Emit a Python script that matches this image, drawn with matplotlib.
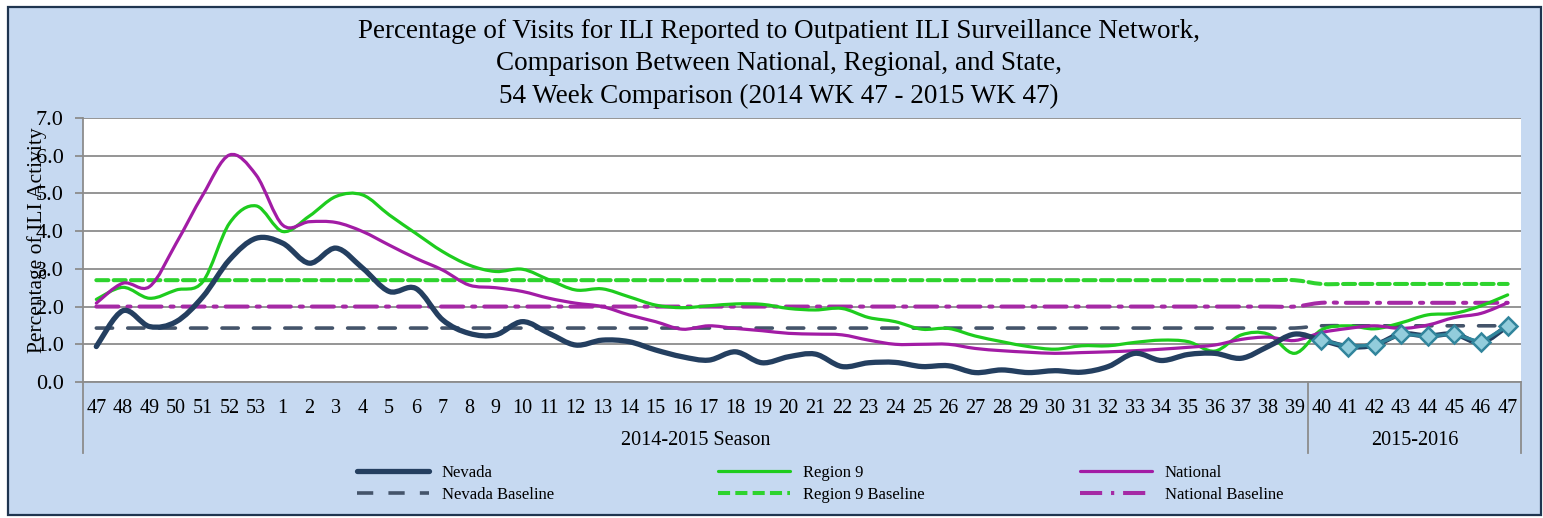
import numpy as np
import matplotlib
matplotlib.use("Agg")
import matplotlib.pyplot as plt
from matplotlib.path import Path
from matplotlib.patches import PathPatch, Rectangle
from matplotlib.lines import Line2D
import matplotlib.transforms as mtransforms

plt.rcParams["font.family"] = ["Liberation Serif", "DejaVu Serif"]

weeks = [47, 48, 49, 50, 51, 52, 53] + list(range(1, 48))
seasons = ["2014-2015 Season", "2015-2016"]
season_sizes = [46, 8]

nevada = [0.94, 1.89, 1.47, 1.6, 2.26, 3.24, 3.81,
          3.68, 3.15, 3.55, 3.02, 2.4, 2.48, 1.65, 1.29, 1.25,
          1.6, 1.29, 0.98, 1.11, 1.07, 0.85, 0.67, 0.58, 0.8, 0.51,
          0.67, 0.74, 0.41, 0.51, 0.52, 0.41, 0.43, 0.25, 0.32, 0.25,
          0.3, 0.26, 0.41, 0.76, 0.57, 0.73, 0.76, 0.63, 0.94, 1.27,
          1.11, 0.94, 0.98, 1.27, 1.22, 1.27, 1.05, 1.49]
region9 = [2.19, 2.51, 2.22, 2.44, 2.66, 4.21, 4.67,
           3.99, 4.4, 4.92, 4.96, 4.43, 3.94, 3.46, 3.1, 2.93,
           2.99, 2.71, 2.44, 2.47, 2.26, 2.04, 1.97, 2.02, 2.07, 2.06,
           1.95, 1.91, 1.95, 1.71, 1.6, 1.4, 1.42, 1.22, 1.07, 0.94,
           0.87, 0.96, 0.96, 1.05, 1.11, 1.07, 0.82, 1.25, 1.27, 0.76,
           1.38, 1.49, 1.41, 1.57, 1.78, 1.82, 2.02, 2.31]
national = [2.09, 2.62, 2.53, 3.68, 4.96, 6.02, 5.49,
            4.16, 4.25, 4.23, 3.99, 3.63, 3.28, 2.97, 2.57, 2.5,
            2.4, 2.22, 2.09, 2.0, 1.78, 1.6, 1.4, 1.49, 1.42, 1.36,
            1.29, 1.27, 1.25, 1.11, 1.0, 1.0, 1.0, 0.89, 0.83, 0.79,
            0.76, 0.78, 0.8, 0.83, 0.87, 0.92, 0.98, 1.13, 1.19, 1.1,
            1.31, 1.42, 1.49, 1.42, 1.51, 1.71, 1.82, 2.1]
nevada_baseline = [1.43, 1.49]
region9_baseline = [2.7, 2.6]
national_baseline = [2.0, 2.1]

C_NV = "#243f60"
C_NVB = "#44546a"
C_R9 = "#1ecc1e"
C_NAT = "#a21ca5"
C_TEAL = "#31859c"
C_BG = "#c6d9f1"


def smooth_path(xs, ys):
    # excel-style smoothed line: catmull-rom turned into cubic beziers
    pts = np.column_stack([xs, ys]).astype(float)
    n = len(pts)
    verts = [pts[0]]
    codes = [Path.MOVETO]
    for i in range(n - 1):
        p0 = pts[i - 1] if i > 0 else pts[i]
        p1, p2 = pts[i], pts[i + 1]
        p3 = pts[i + 2] if i + 2 < n else pts[i + 1]
        verts += [p1 + (p2 - p0) / 6, p2 - (p3 - p1) / 6, p2]
        codes += [Path.CURVE4] * 3
    return Path(verts, codes)


x = np.arange(len(weeks))

fig = plt.figure(figsize=(15.43, 5.18), dpi=100)
fig.patches.append(Rectangle((8 / 1543, 3 / 518), 1533 / 1543, 508 / 518,
                             transform=fig.transFigure, facecolor=C_BG,
                             edgecolor="#1f3550", lw=1.6, zorder=-10))

ax = fig.add_axes([83 / 1543, 136 / 518, 1438 / 1543, 264 / 518])
ax.set_facecolor("white")

styles = [
    (np.repeat(nevada_baseline, season_sizes), C_NVB, 2.6, (0, (4.5, 4.2)), "Nevada Baseline"),
    (np.repeat(region9_baseline, season_sizes), "#2ed32e", 2.9, (0, (3.0, 1.3)), "Region 9 Baseline"),
    (np.repeat(national_baseline, season_sizes), "#a52aa5", 2.9, (0, (5.5, 2.2, 0.8, 2.2)), "National Baseline"),
    (region9, C_R9, 2.3, "-", "Region 9"),
    (national, C_NAT, 2.3, "-", "National"),
    (nevada, C_NV, 3.8, "-", "Nevada"),
]
handles = {}
for vals, color, lw, ls, name in styles:
    patch = PathPatch(smooth_path(x, vals), fill=False, edgecolor=color, lw=lw,
                      linestyle=ls, capstyle="round", joinstyle="round", zorder=3)
    ax.add_patch(patch)
    handles[name] = Line2D([], [], color=color, lw=lw, linestyle=ls,
                           solid_capstyle="round")

# current season for nevada drawn with markers
cur = slice(season_sizes[0], None)
ax.plot(x[cur], np.array(nevada)[cur], color=C_TEAL, lw=2.4, marker="D",
        markersize=9, markerfacecolor="#92cddc", markeredgecolor=C_TEAL,
        markeredgewidth=1.8, zorder=4)

ax.set_xlim(-0.5, len(weeks) - 0.5)
ax.set_ylim(0, 7)
ax.set_yticks(np.arange(0, 8))
ax.set_yticklabels([f"{v:.1f}" for v in range(8)], fontsize=16)
ax.set_xticks(x)
ax.set_xticklabels([str(w) for w in weeks], fontsize=14.5)
ax.tick_params(axis="x", length=0, pad=12)
ax.tick_params(axis="y", length=6, width=1.3, color="#8c8c8c", pad=8)
ax.grid(axis="y", color="#8c8c8c", lw=1.3)
ax.set_axisbelow(True)
for side in ["top", "right"]:
    ax.spines[side].set_visible(False)
for side in ["left", "bottom"]:
    ax.spines[side].set_color("#8c8c8c")
    ax.spines[side].set_linewidth(1.3)

# season brackets under the axis
trans = mtransforms.blended_transform_factory(ax.transData, ax.transAxes)
edges = np.concatenate([[0], np.cumsum(season_sizes)]) - 0.5
for e in edges:
    ax.add_line(Line2D([e, e], [0, -0.27], transform=trans, color="#8c8c8c",
                       lw=1.3, clip_on=False))
for name, lo, hi in zip(seasons, edges[:-1], edges[1:]):
    ax.text((lo + hi) / 2, -0.222, name, transform=trans, ha="center",
            va="center", fontsize=14.5)

fig.text(37 / 1543, 1 - 240 / 518, "Percentage of ILI Activity", rotation=90,
         ha="center", va="center", fontsize=15.5)

title_lines = [
    "Percentage of Visits for ILI Reported to Outpatient ILI Surveillance Network,",
    "Comparison Between National, Regional, and State,",
    "54 Week Comparison (2014 WK 47 - 2015 WK 47)",
]
for i, line in enumerate(title_lines):
    fig.text(779 / 1543, 1 - (32 + 32 * i) / 518, line, ha="center",
             va="center", fontsize=19.5)

cols = [("Nevada", "Nevada Baseline", 357),
        ("Region 9", "Region 9 Baseline", 718),
        ("National", "National Baseline", 1080)]
for a, b, xpix in cols:
    leg = fig.legend([handles[a], handles[b]], [a, b], loc="upper left",
                     bbox_to_anchor=(xpix / 1543, 1 - 465 / 518),
                     frameon=False, fontsize=12, handlelength=4.3,
                     handletextpad=0.8, borderpad=0, borderaxespad=0,
                     labelspacing=0.35)

fig.savefig("out.png", dpi=100, facecolor="white")
